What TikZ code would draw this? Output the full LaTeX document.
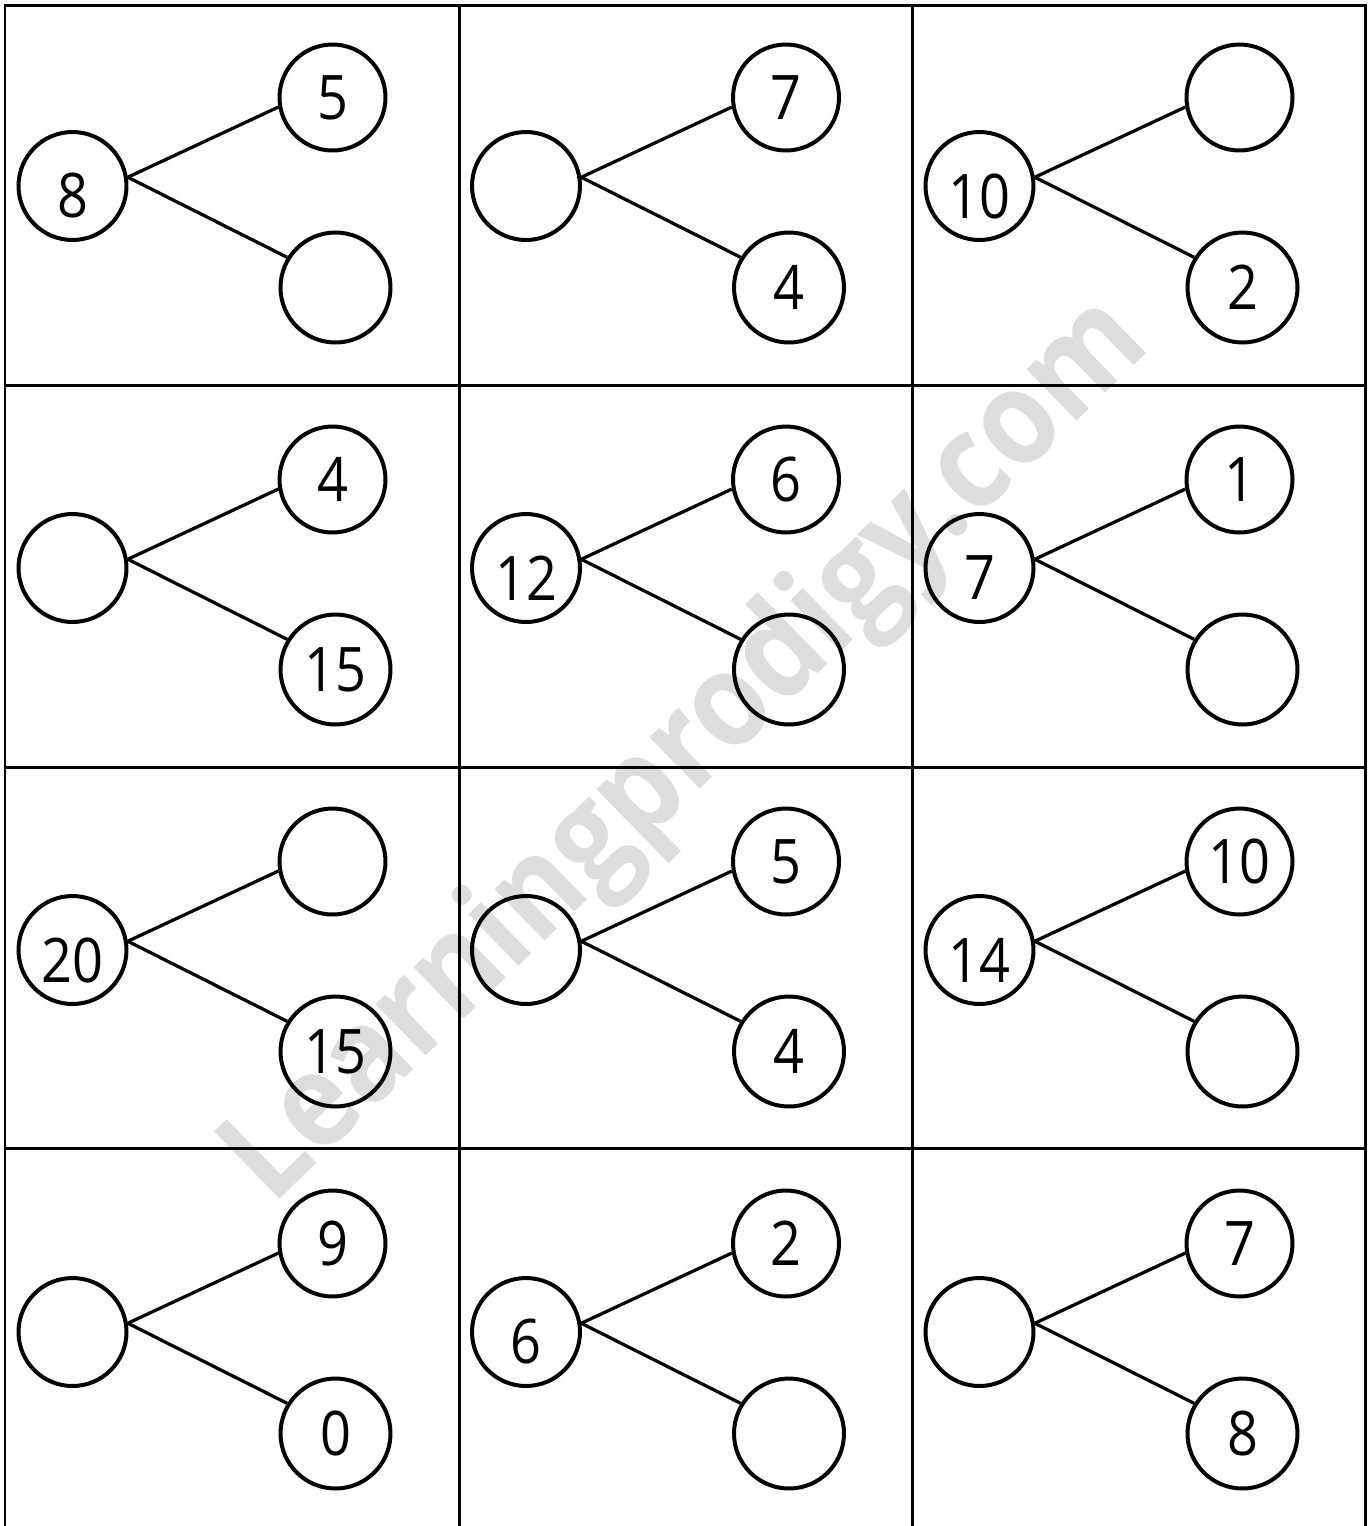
\documentclass[tikz,border=0pt]{standalone}
\usepackage{fontspec}
\setmainfont{Open Sans}
\newfontfamily\numfont[FakeStretch=0.88]{Open Sans}
\usepackage{graphicx}
\definecolor{wmgray}{RGB}{221,221,221}
\newcommand\bondcell[6]{%
  \begin{scope}[shift={(#2,#3)}]
    \node[bubble, minimum size=2.16cm] (#1L) at (72.5,186) {};
    \node[bubble, minimum size=2.12cm] (#1T) at (332.5,97.5) {};
    \node[bubble, minimum size=2.2cm] (#1B) at (335.5,287.5) {};
    \node[num] (#1Ln) at ([yshift=-0.2cm]#1L.center) {#4};
    \node[num] (#1Tn) at (#1T.center) {#5};
    \node[num] (#1Bn) at (#1B.center) {#6};
    \draw[conn] (#1L.9) -- (#1T.190);
    \draw[conn] (#1L.9) -- (#1B.148);
  \end{scope}}
\begin{document}
\begin{tikzpicture}[x=0.02cm,y=-0.02cm,
  bubble/.style={circle, draw=black, line width=0.08cm, inner sep=0pt},
  num/.style={inner sep=0pt, font=\numfont\fontsize{35}{40}\selectfont},
  conn/.style={draw=black, line width=0.065cm},
  gridline/.style={draw=black, line width=0.06cm, line cap=rect},
  wm/.style={text=wmgray, inner sep=0pt}]
\useasboundingbox (0,0) rectangle (1372,1526);
% watermark
\node[wm, rotate=44.3, anchor=base west] (wmark) at (272,1207)
  {\resizebox{24.6cm}{2.0cm}{\bfseries Learningprodigy.com}};
% grid
\foreach \yy in {5,385,767,1148.5} \draw[gridline] (5,\yy) -- (1365,\yy);
\foreach \xx in {5,459,912,1365} \draw[gridline] (\xx,5) -- (\xx,1530);
% cells
\bondcell{a}{0}{0}{8}{5}{}
\bondcell{b}{453.5}{0}{}{7}{4}
\bondcell{c}{907}{0}{10}{}{2}
\bondcell{d}{0}{382}{}{4}{15}
\bondcell{e}{453.5}{382}{12}{6}{}
\bondcell{f}{907}{382}{7}{1}{}
\bondcell{g}{0}{764}{20}{}{15}
\bondcell{h}{453.5}{764}{}{5}{4}
\bondcell{i}{907}{764}{14}{10}{}
\bondcell{j}{0}{1146}{}{9}{0}
\bondcell{k}{453.5}{1146}{6}{2}{}
\bondcell{l}{907}{1146}{}{7}{8}
\end{tikzpicture}
\end{document}
